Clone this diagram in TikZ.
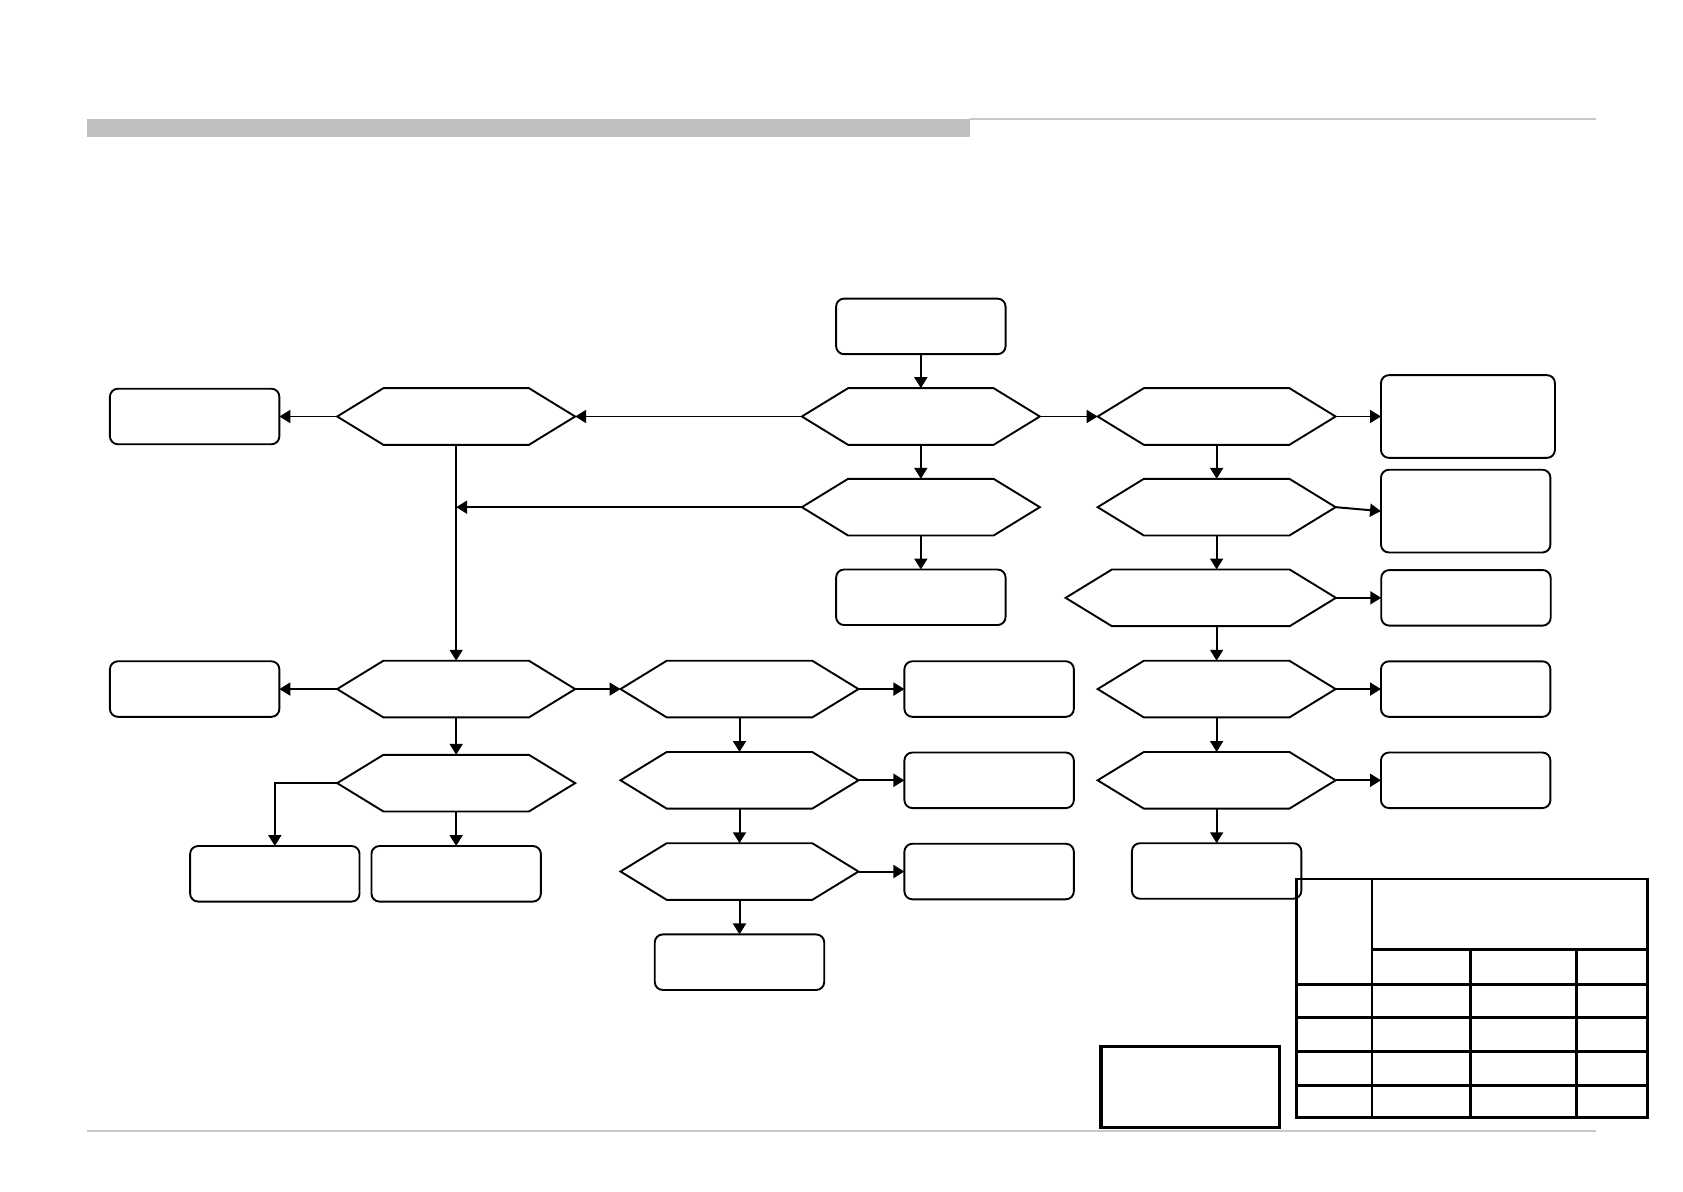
\documentclass[tikz,border=0pt]{standalone}
\usepackage{tikz}
\usetikzlibrary{arrows.meta, positioning, shapes.symbols}
\definecolor{bargray}{RGB}{192,192,192}
\definecolor{rulegray}{RGB}{200,200,200}

\begin{document}
\begin{tikzpicture}[
    node distance=0.6cm and 0.8cm,
    box/.style={
        rectangle, rounded corners=4pt,
        draw, line width=0.95pt, outer sep=0pt,
        minimum width=2.99cm, minimum height=0.98cm
    },
    tallbox/.style={box, minimum height=1.46cm},
    dec/.style={
        signal, signal to=east and west, signal pointer angle=63,
        draw, line width=0.95pt, inner sep=0pt, outer sep=0pt,
        minimum width=4.2cm, minimum height=1cm
    },
    arr/.style={-{Triangle[length=5.5pt,width=6.5pt]}, line width=1pt},
]

\useasboundingbox (0,0) rectangle (29.7,-21.02);

% Cabecera y pie de pagina
\fill[bargray] (1.534,-2.10) rectangle (17.12,-2.42);
\draw[rulegray, line width=0.6pt] (17.12,-2.10) -- (28.17,-2.10);
\draw[rulegray, line width=0.6pt] (1.534,-19.96) -- (28.17,-19.96);

% Columna central
\node[box] (start) at (16.25,-5.76) {};
\node[dec, below=0.6cm of start] (q1) {};
\node[dec, below=0.6cm of q1] (q2) {};
\node[box, below=0.6cm of q2] (res2) {};

% Columna derecha
\node[dec, right=1.02cm of q1] (qa1) {};
\node[tallbox, right=0.8cm of qa1, minimum width=3.07cm] (ra1) {};
\node[dec, below=0.6cm of qa1] (qa2) {};
\node[tallbox, right=0.8cm of qa2, yshift=-0.07cm] (ra2) {};
\node[dec, below=0.6cm of qa2, xshift=-0.28cm, minimum width=4.77cm] (qa3) {};
\node[box, right=0.8cm of qa3] (ra3) {};
\node[dec, below=0.61cm of qa3, xshift=0.28cm] (qa4) {};
\node[box, right=0.8cm of qa4] (ra4) {};
\node[dec, below=0.61cm of qa4] (qa5) {};
\node[box, right=0.8cm of qa5] (ra5) {};
\node[box, below=0.61cm of qa5] (ra6) {};

% Columna izquierda
\node[dec, left=4cm of q1] (qb1) {};
\node[box, left=1.02cm of qb1] (rb1) {};
\node[dec, below=3.81cm of qb1] (qb4) {};
\node[box, left=1.02cm of qb4] (rb4) {};
\node[dec, below=0.66cm of qb4] (qb5) {};
\node[box, below=0.61cm of qb5] (rb6b) {};
\node[box, left=0.21cm of rb6b] (rb6a) {};

% Columna media
\node[dec, right=0.8cm of qb4] (qc4) {};
\node[box, right=0.81cm of qc4] (rc4) {};
\node[dec, below=0.61cm of qc4] (qc5) {};
\node[box, right=0.81cm of qc5] (rc5) {};
\node[dec, below=0.61cm of qc5] (qc6) {};
\node[box, right=0.81cm of qc6] (rc6) {};
\node[box, below=0.61cm of qc6] (rc7) {};

% Flechas superiores
\draw[arr] (start.south) -- (q1.north);
\draw[arr] (q1.west) -- (qb1.east);
\draw[arr] (q1.east) -- (qa1.west);
\draw[arr] (qb1.west) -- (rb1.east);
\draw[arr] (qa1.east) -- (ra1.west);
\draw[arr] (q1.south) -- (q2.north);
\draw[arr] (q2.south) -- (res2.north);
\draw[arr] (q2.west) -- (qb1 |- q2.west);
\draw[arr] (qb1.south) -- (qb4.north);

% Flechas derecha
\draw[arr] (qa1.south) -- (qa2.north);
\draw[arr] (qa2.east) -- (ra2.west);
\draw[arr] (qa2.south) -- (qa2.south |- qa3.north);
\draw[arr] (qa3.east) -- (ra3.west);
\draw[arr] (qa4.north |- qa3.south) -- (qa4.north);
\draw[arr] (qa4.east) -- (ra4.west);
\draw[arr] (qa4.south) -- (qa5.north);
\draw[arr] (qa5.east) -- (ra5.west);
\draw[arr] (qa5.south) -- (ra6.north);

% Flechas izquierda
\draw[arr] (qb4.west) -- (rb4.east);
\draw[arr] (qb4.east) -- (qc4.west);
\draw[arr] (qb4.south) -- (qb5.north);
\draw[arr] (qb5.west) -| (rb6a.north);
\draw[arr] (qb5.south) -- (rb6b.north);

% Flechas media
\draw[arr] (qc4.east) -- (rc4.west);
\draw[arr] (qc4.south) -- (qc5.north);
\draw[arr] (qc5.east) -- (rc5.west);
\draw[arr] (qc5.south) -- (qc6.north);
\draw[arr] (qc6.east) -- (rc6.west);
\draw[arr] (qc6.south) -- (rc7.north);

% Recuadro y tabla
\draw[line width=1.6pt] (19.43,-18.47) rectangle (22.58,-19.89);
\begin{scope}[line width=1.4pt]
  \draw (22.88,-15.51) rectangle (29.07,-19.72);
  \draw (24.21,-15.51) -- (24.21,-19.72);
  \draw (24.21,-16.76) -- (29.07,-16.76);
  \foreach \y in {-17.37,-17.96,-18.56,-19.15}
    \draw (22.88,\y) -- (29.07,\y);
  \foreach \x in {25.95,27.82}
    \draw (\x,-16.76) -- (\x,-19.72);
\end{scope}

\end{tikzpicture}
\end{document}
